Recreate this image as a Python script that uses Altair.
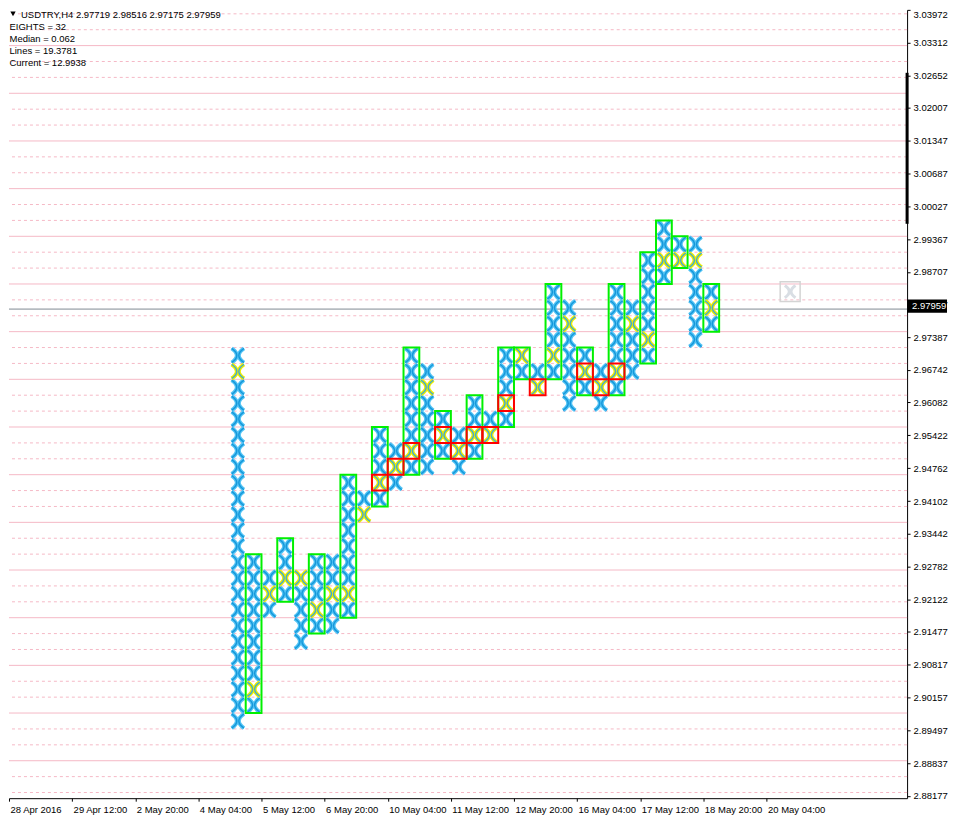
import altair as alt
import pandas as pd

# ---------------- data ----------------
SYMBOL_LINE = "USDTRY,H4  2.97719 2.98516 2.97175 2.97959"
INFO_LINES = ["EIGHTS = 32", "Median = 0.062", "Lines = 19.3781", "Current = 12.9938"]

PRICE_TICKS = [3.03972, 3.03312, 3.02652, 3.02007, 3.01347, 3.00687, 3.00027, 2.99367,
               2.98707, 2.98047, 2.97387, 2.96742, 2.96082, 2.95422, 2.94762, 2.94102,
               2.93442, 2.92782, 2.92122, 2.91477, 2.90817, 2.90157, 2.89497, 2.88837, 2.88177]
TIME_TICKS = [0, 4, 8, 12, 16, 20, 24, 28, 32, 36, 40, 44, 48]
TIME_LABELS = ["28 Apr 2016", "29 Apr 12:00", "2 May 20:00", "4 May 04:00", "5 May 12:00",
               "6 May 20:00", "10 May 04:00", "11 May 12:00", "12 May 20:00", "16 May 04:00",
               "17 May 12:00", "18 May 20:00", "20 May 04:00"]

CURRENT = 2.97959
SCROLL_BAR = [3.02707, 2.99673]        # thick part of the price axis
ICON_COL, ICON_PRICE = 49.5, 2.98310   # faint grey marker right of the columns

# box grid of the point & figure chart (rows counted downward from the top gridline)
GRID_TOP = 3.038922
BOX = 0.0031933
N_GRID = 50

# columns of crosses: column index, top row, bottom row
COLS       = [14, 15, 16, 17, 18, 19, 20, 21, 22, 23, 24, 25, 26, 27, 28, 29,
              30, 31, 32, 33, 34, 35, 36, 37, 38, 39, 40, 41, 42, 43, 44]
TOP_ROW    = [21, 34, 35, 33, 35, 34, 34, 29, 30, 26, 27, 21, 22, 25, 26, 24,
              25, 21, 21, 22, 17, 18, 21, 22, 17, 18, 15, 13, 14, 14, 17]
BOTTOM_ROW = [44, 43, 37, 36, 39, 38, 38, 37, 31, 30, 29, 28, 28, 27, 28, 27,
              26, 25, 22, 23, 22, 24, 23, 24, 23, 22, 21, 16, 15, 20, 19]
YELLOW_ROWS = {14: [22], 15: [42], 16: [36], 17: [35], 18: [35], 19: [37], 20: [36],
               21: [36], 22: [31], 23: [29], 24: [28], 25: [27], 26: [23], 27: [26],
               28: [27], 29: [26], 30: [26], 31: [24], 32: [21], 33: [23], 34: [21],
               35: [19], 36: [22], 37: [23], 38: [22], 39: [19], 40: [20], 41: [15],
               42: [15], 43: [15], 44: [18]}

# green frames: column, top row, bottom row
GREEN_COL = [15, 17, 19, 21, 23, 25, 27, 29, 31, 32, 34, 36, 38, 40, 41, 42, 44]
GREEN_TOP = [34, 33, 34, 29, 26, 21, 25, 24, 21, 21, 17, 21, 17, 15, 13, 14, 17]
GREEN_BOT = [43, 36, 38, 37, 30, 28, 27, 27, 25, 22, 22, 23, 23, 21, 16, 15, 19]

# red single boxes: column, row
RED_COL = [23, 24, 25, 27, 28, 29, 30, 31, 33, 36, 37, 38]
RED_ROW = [29, 28, 27, 26, 27, 26, 26, 24, 23, 22, 23, 22]

# ---------------- tables ----------------
cells = []
for c, t, b in zip(COLS, TOP_ROW, BOTTOM_ROW):
    for r in range(t, b + 1):
        cells.append({"col": c + 0.5,
                      "price": GRID_TOP - (r + 0.5) * BOX,
                      "yellow": r in YELLOW_ROWS.get(c, [])})
cells = pd.DataFrame(cells)
blue_cells = cells[~cells["yellow"]]
yellow_cells = cells[cells["yellow"]]

green = pd.DataFrame({"x0": GREEN_COL, "x1": [c + 1 for c in GREEN_COL],
                      "y0": [GRID_TOP - t * BOX for t in GREEN_TOP],
                      "y1": [GRID_TOP - (b + 1) * BOX for b in GREEN_BOT]})
red = pd.DataFrame({"x0": RED_COL, "x1": [c + 1 for c in RED_COL],
                    "y0": [GRID_TOP - r * BOX for r in RED_ROW],
                    "y1": [GRID_TOP - (r + 1) * BOX for r in RED_ROW]})

grid = pd.DataFrame({"price": [GRID_TOP - k * BOX for k in range(N_GRID)],
                     "solid": [k % 3 == 2 for k in range(N_GRID)]})

# ---------------- layout / style ----------------
W, H = 900, 790
FONT = "Liberation Sans"
FS = 9.5
XS = alt.Scale(domain=[0, 56.91], nice=False, zero=False)
YS = alt.Scale(domain=[2.88131, PRICE_TICKS[0]], nice=False, zero=False)

label_array = "[" + ",".join("'%s'" % s for s in TIME_LABELS) + "]"
X_AXIS = alt.Axis(values=TIME_TICKS, labelExpr=label_array + "[round(datum.value/4)]",
                  title=None, grid=False, tickSize=3, tickColor="black",
                  domainColor="black", labelAlign="left", labelBaseline="top",
                  labelPadding=3, labelOffset=1, labelFlush=False, labelOverlap=False,
                  labelBound=False, labelColor="black", labelFont=FONT, labelFontSize=FS)
Y_AXIS = alt.Axis(orient="right", values=PRICE_TICKS, format=".5f", title=None, grid=False,
                  tickSize=3, tickColor="black", domainColor="black", labelPadding=3,
                  labelFlush=True, labelOverlap=False, labelColor="black",
                  labelFont=FONT, labelFontSize=FS)

XPATH = "M-0.82,-0.95 Q0.55,0 -0.82,0.95 M0.82,-0.95 Q-0.55,0 0.82,0.95"
RECTPATH = "M-1,-0.33 L1,-0.33 L1,0.33 L-1,0.33 Z"

def X(f):
    return alt.X(f, scale=XS, axis=X_AXIS)

def Y(f):
    return alt.Y(f, scale=YS, axis=Y_AXIS)

layers = []

# gridlines
layers.append(alt.Chart(grid[~grid["solid"]]).mark_rule(color="#F5B9C6", strokeWidth=1,
              strokeDash=[3, 3]).encode(y=Y("price:Q")))
layers.append(alt.Chart(grid[grid["solid"]]).mark_rule(color="#F5B9C6", strokeWidth=1)
              .encode(y=Y("price:Q")))

# current price line
layers.append(alt.Chart(pd.DataFrame({"price": [CURRENT]})).mark_rule(color="#7F8A93", strokeWidth=1)
              .encode(y=Y("price:Q")))

# crosses
for df, outer, inner in [(blue_cells, "#52C3F4", "#1597DA"), (yellow_cells, "#EEEE00", "#44AACC")]:
    layers.append(alt.Chart(df).mark_point(shape=XPATH, size=225, filled=False, strokeWidth=4,
                  color=outer, opacity=1).encode(x=X("col:Q"), y=Y("price:Q")))
    layers.append(alt.Chart(df).mark_point(shape=XPATH, size=225, filled=False, strokeWidth=1.4,
                  color=inner, opacity=1).encode(x=X("col:Q"), y=Y("price:Q")))

# frames
layers.append(alt.Chart(green).mark_rect(filled=False, stroke="#00F000", strokeWidth=2)
              .encode(x=X("x0:Q"), x2="x1:Q", y=Y("y0:Q"), y2="y1:Q"))
layers.append(alt.Chart(red).mark_rect(filled=False, stroke="#FF0000", strokeWidth=2)
              .encode(x=X("x0:Q"), x2="x1:Q", y=Y("y0:Q"), y2="y1:Q"))

# faint grey marker
icon = pd.DataFrame({"col": [ICON_COL], "price": [ICON_PRICE]})
layers.append(alt.Chart(icon).mark_point(shape="square", size=400, filled=False, color="#D4D4D4",
              strokeWidth=1.5, opacity=1).encode(x=X("col:Q"), y=Y("price:Q")))
layers.append(alt.Chart(icon).mark_point(shape=XPATH, size=170, filled=False, color="#D9DEE4",
              strokeWidth=3, opacity=1).encode(x=X("col:Q"), y=Y("price:Q")))

# thick part of the price axis
layers.append(alt.Chart(pd.DataFrame({"a": [SCROLL_BAR[0]], "b": [SCROLL_BAR[1]]}))
              .mark_rule(color="black", strokeWidth=3)
              .encode(x=alt.value(W), y=Y("a:Q"), y2="b:Q"))

# current price label
cur = pd.DataFrame({"price": [CURRENT], "t": ["%.5f" % CURRENT]})
layers.append(alt.Chart(cur).mark_point(shape=RECTPATH, size=1600, filled=True, color="black",
              opacity=1, yOffset=-3).encode(x=alt.value(W + 20), y=Y("price:Q")))
layers.append(alt.Chart(cur).mark_text(align="left", baseline="middle", font=FONT, fontSize=FS,
              color="white", yOffset=-3).encode(x=alt.value(W + 5), y=Y("price:Q"), text="t:N"))

# header texts
layers.append(alt.Chart(pd.DataFrame({"t": ["x"]})).mark_point(shape="triangle-down", size=28,
              filled=True, color="black", opacity=1).encode(x=alt.value(4), y=alt.value(4)))
layers.append(alt.Chart(pd.DataFrame({"t": [SYMBOL_LINE]})).mark_text(
              align="left", baseline="middle", font=FONT, fontSize=FS, color="black")
              .encode(x=alt.value(12), y=alt.value(5.5), text="t:N"))
for i, line in enumerate(INFO_LINES):
    layers.append(alt.Chart(pd.DataFrame({"t": [line]})).mark_text(
                  align="left", baseline="middle", font=FONT, fontSize=FS, color="black")
                  .encode(x=alt.value(0.5), y=alt.value(17 + 12 * i), text="t:N"))

chart = (alt.layer(*layers)
         .properties(width=W, height=H, padding=0, background="white")
         .configure_view(stroke=None))

chart.save("out.html", embed_options={"renderer": "svg", "actions": False})
